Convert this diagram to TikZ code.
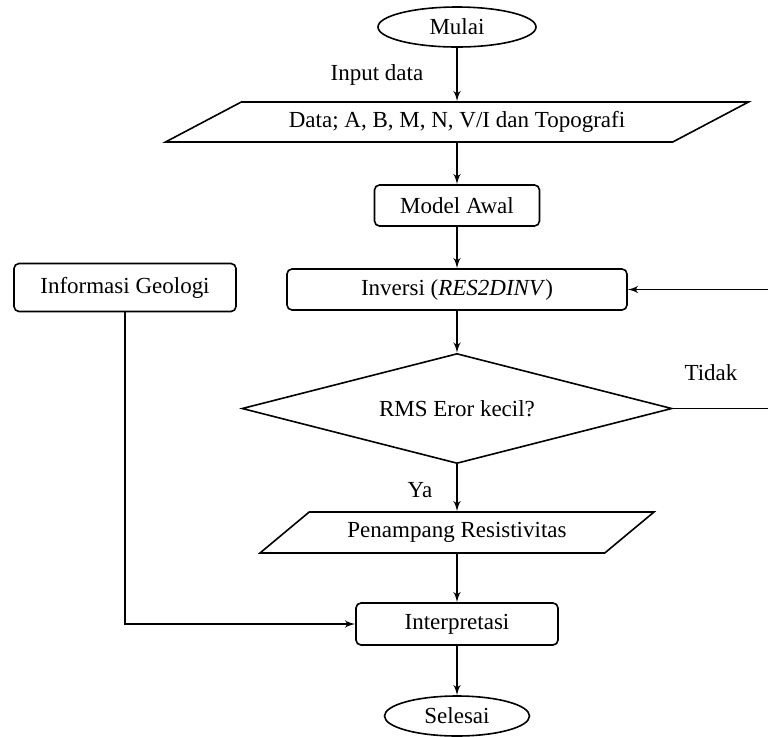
\documentclass[tikz,border=0pt]{standalone}
\usepackage{fontspec}
\setmainfont{Liberation Serif}
\usetikzlibrary{shapes.geometric, arrows, positioning}

\begin{document}
\begin{tikzpicture}[x=0.5pt, y=-0.5pt, font=\fontsize{11.5}{14}\selectfont,
    terminal/.style={ellipse, draw=black, thick, inner sep=0pt, minimum height=20pt},
    proses/.style={rectangle, draw=black, thick, rounded corners=2.5pt, text centered, inner sep=0pt, minimum height=20.5pt},
    iodata/.style={trapezium, draw=black, thick, trapezium stretches body, inner sep=0pt, minimum height=20pt},
    keputusan/.style={diamond, draw=black, thick, aspect=3.9, inner sep=0pt, minimum width=215pt, minimum height=55pt},
    arrow/.style={draw=black, -latex', thick}]
    \useasboundingbox (0,0) rectangle (768,736);

    \node [terminal, minimum width=79pt] (mulai) at (457,27) {Mulai};
    \node [iodata, trapezium left angle=15.6, trapezium right angle=164.4, minimum width=291.5pt] (data) at (457,122) {Data; A, B, M, N, V/I dan Topografi};
    \node [proses, minimum width=82.5pt] (model) at (457,205.5) {Model Awal};
    \node [proses, minimum width=170pt] (inversi) at (457,289.5) {Inversi (\textit{RES2DINV})};
    \node [proses, minimum width=111pt, minimum height=24pt] (geologi) at (125,287.5) {Informasi Geologi};
    \node [keputusan] (rms) at (457,408.5) {RMS Eror kecil?};
    \node [iodata, trapezium left angle=22.3, trapezium right angle=157.7, minimum width=197pt, minimum height=20.5pt] (penampang) at (457,532.5) {Penampang Resistivitas};
    \node [proses, minimum width=101pt, minimum height=21pt] (interpretasi) at (457,624) {Interpretasi};
    \node [terminal, minimum width=72.5pt] (selesai) at (457,716) {Selesai};

    \node (lblinput) at (377,75) {Input data};
    \node (lblya) at (420,490) {Ya};
    \node (lbltidak) at (711,373) {Tidak};

    \draw [arrow] (mulai) -- (data);
    \draw [arrow] (data) -- (model);
    \draw [arrow] (model) -- (inversi);
    \draw [arrow] (inversi) -- (rms);
    \draw [arrow] (rms) -- (penampang);
    \draw [arrow] (penampang) -- (interpretasi);
    \draw [arrow] (interpretasi) -- (selesai);
    \draw [arrow] (geologi.south) |- (interpretasi.west);
    \draw [arrow] (rms.east) -- ++(110,0) |- (inversi.east);

\end{tikzpicture}
\end{document}
